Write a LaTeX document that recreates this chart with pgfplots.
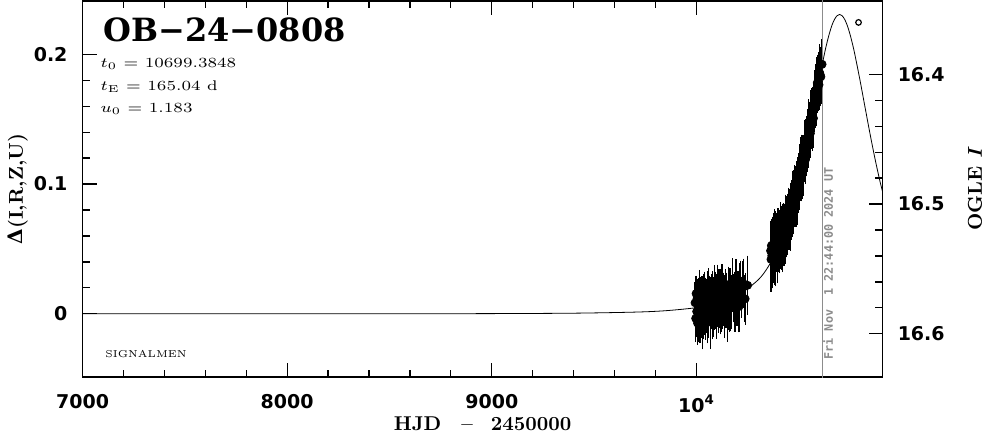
\documentclass[border=0pt]{standalone}
\usepackage{pgfplots}
\pgfplotsset{compat=1.18}
\usepackage{pgfplotstable}
\usepackage{graphicx}
\usepackage{fontspec}
\newfontfamily\tickfont{DejaVu Sans}
\newfontfamily\titlefont{DejaVu Serif}
\newfontfamily\datefont{DejaVu Sans Mono}
\definecolor{dategray}{rgb}{0.55,0.55,0.55}

\pgfplotstableread{
t d e
9993 0.0085 0.014
9996 -0.0035 0.016
9998 0.0156 0.012
10001 0.0018 0.018
10003 0.0118 0.013
10005 -0.0071 0.015
10008 0.0070 0.017
10010 0.0140 0.012
10012 -0.0010 0.019
10015 0.0180 0.014
10017 -0.0049 0.016
10019 0.0061 0.013
10022 0.0112 0.015
10025 0.0013 0.018
10027 0.0153 0.012
10030 -0.0086 0.017
10032 0.0085 0.014
10035 -0.0014 0.016
10038 0.0177 0.013
10040 0.0058 0.020
10043 -0.0031 0.015
10046 0.0140 0.012
10048 0.0040 0.017
10051 0.0111 0.014
10054 -0.0048 0.016
10057 0.0203 0.013
10060 0.0014 0.018
10062 0.0085 0.015
10065 0.0156 0.012
10068 -0.0063 0.019
10071 0.0128 0.014
10074 0.0059 0.016
10077 0.0180 0.013
10080 -0.0009 0.017
10083 0.0112 0.015
10086 0.0013 0.012
10089 0.0174 0.018
10092 0.0045 0.014
10095 0.0146 0.016
10098 -0.0042 0.013
10101 0.0090 0.017
10104 0.0211 0.015
10107 -0.0007 0.012
10110 0.0135 0.019
10113 0.0046 0.014
10116 0.0168 0.016
10119 -0.0010 0.013
10122 0.0121 0.018
10125 0.0213 0.015
10128 0.0025 0.012
10131 0.0097 0.017
10134 0.0159 0.014
10137 -0.0009 0.016
10141 0.0194 0.013
10144 0.0086 0.018
10148 0.0149 0.015
10152 -0.0028 0.017
10156 0.0225 0.012
10160 0.0068 0.019
10164 0.0191 0.014
10168 0.0044 0.016
10172 0.0147 0.013
10176 0.0230 0.018
10180 0.0103 0.015
10184 0.0186 0.012
10188 0.0049 0.017
10193 0.0263 0.014
10198 0.0087 0.016
10203 0.0182 0.013
10208 0.0056 0.018
10214 0.0242 0.015
10220 0.0128 0.014
10228 0.0236 0.017
10238 0.0116 0.018
10250 0.0220 0.021
}\seasonA

\pgfplotstableread{
t d e
10362 0.0486 0.021
10364 0.0420 0.023
10366 0.0525 0.019
10368 0.0450 0.022
10370 0.0530 0.020
10372 0.0425 0.021
10374 0.0500 0.019
10377 0.0540 0.022
10380 0.0480 0.024
10383 0.0590 0.020
10386 0.0480 0.025
10389 0.0560 0.019
10392 0.0550 0.021
10395 0.0485 0.023
10398 0.0605 0.019
10401 0.0550 0.021
10404 0.0595 0.019
10407 0.0540 0.021
10410 0.0640 0.020
10413 0.0573 0.021
10416 0.0635 0.018
10419 0.0550 0.021
10422 0.0630 0.020
10425 0.0663 0.017
10428 0.0596 0.021
10431 0.0650 0.018
10434 0.0605 0.020
10437 0.0730 0.017
10440 0.0663 0.021
10443 0.0727 0.018
10446 0.0671 0.020
10449 0.0784 0.017
10452 0.0720 0.021
10455 0.0767 0.018
10458 0.0704 0.020
10461 0.0822 0.017
10464 0.0799 0.021
10467 0.0787 0.018
10470 0.0884 0.020
10473 0.0801 0.017
10476 0.0879 0.021
10479 0.0946 0.018
10482 0.0884 0.020
10485 0.0951 0.017
10488 0.0898 0.021
10491 0.0976 0.018
10494 0.0903 0.020
10497 0.1040 0.017
10500 0.1008 0.021
10503 0.0999 0.018
10506 0.1091 0.020
10509 0.1062 0.017
10512 0.1153 0.021
10515 0.1065 0.018
10518 0.1156 0.020
10521 0.1187 0.017
10524 0.1138 0.021
10527 0.1211 0.018
10530 0.1274 0.020
10533 0.1188 0.017
10536 0.1292 0.021
10539 0.1275 0.018
10542 0.1359 0.020
10545 0.1312 0.017
10548 0.1426 0.021
10551 0.1380 0.018
10554 0.1416 0.020
10557 0.1391 0.017
10560 0.1496 0.021
10563 0.1541 0.018
10566 0.1476 0.020
10569 0.1562 0.017
10572 0.1507 0.021
10575 0.1602 0.018
10578 0.1657 0.020
10581 0.1623 0.017
10584 0.1698 0.021
10587 0.1643 0.018
10590 0.1779 0.020
10593 0.1734 0.017
10596 0.1789 0.021
10599 0.1765 0.018
10602 0.1859 0.020
10605 0.1842 0.017
10608 0.1826 0.021
10611 0.1920 0.018
10614 0.1923 0.019
}\seasonB

\begin{document}
\begin{tikzpicture}
\begin{axis}[
  name=ax,
  scale only axis, width=400pt, height=188pt,
  xmin=7000, xmax=10910, ymin=-0.0487, ymax=0.241,
  scaled x ticks=false, scaled y ticks=false,
  xtick={7000,8000,9000,10000},
  xticklabels={7000,8000,9000,10\textsuperscript{4}},
  minor x tick num=4,
  ytick={0,0.1,0.2}, yticklabels={0,0.1,0.2},
  minor y tick num=4,
  ytick pos=left,
  tick align=inside,
  major tick length=7pt, minor tick length=3.6pt,
  axis line style={line width=0.7pt},
  every tick/.style={black, line width=0.6pt},
  tick label style={font=\tickfont\bfseries\fontsize{9.5}{10}\selectfont},
  xticklabel style={yshift=-5.3pt},
  yticklabel style={xshift=-4pt},
  xlabel={HJD\hspace{10pt}\textendash\hspace{9pt}2450000},
  ylabel={{\titlefont\bfseries Δ}(I,R,Z,U)},
  label style={font=\bfseries\fontsize{10}{12}\selectfont},
  xlabel style={at={(axis description cs:0.5,-0.141)}, anchor=base},
  ylabel style={at={(axis description cs:-0.0744,0.5)}, anchor=base},
  clip=true
]
\addplot[black, line width=0.4pt, smooth] coordinates {
(7000,0.00001) (7500,0.000015) (8000,0.00003) (8500,0.00007) (9000,0.00019)
(9400,0.00052) (9700,0.00135) (9850,0.00243) (10000,0.00478) (10100,0.00793)
(10200,0.01393) (10300,0.02595) (10350,0.03613) (10400,0.05082) (10450,0.07179)
(10500,0.10078) (10525,0.1185) (10550,0.13818) (10575,0.1592) (10600,0.18028)
(10625,0.2000) (10636.9,0.2083) (10649.4,0.2159) (10661.9,0.2222) (10674.4,0.2268)
(10686.9,0.22965) (10699.4,0.23063) (10711.9,0.22965) (10724.4,0.2268) (10736.9,0.2222)
(10749.4,0.2159) (10761.9,0.2083) (10774.4,0.19955) (10799.4,0.17979) (10824.4,0.15863)
(10849.4,0.13769) (10874.4,0.11806) (10899.4,0.10036) (10924.4,0.0850)
};
\addplot[black, only marks, mark=none,
  error bars/.cd, y dir=both, y explicit,
  error bar style={line width=0.75pt},
  error mark options={mark size=1.2pt, line width=0.6pt}]
  table[x=t, y=d, y error=e] {\seasonA};
\addplot[black, only marks, mark=none,
  error bars/.cd, y dir=both, y explicit,
  error bar style={line width=0.75pt},
  error mark options={mark size=1.2pt, line width=0.6pt}]
  table[x=t, y=d, y error=e] {\seasonB};
\addplot[dategray, line width=0.5pt] coordinates {(10617.5,-0.06) (10617.5,0.25)};
\addplot[black, only marks, mark=o, mark size=1.4pt, line width=0.6pt] coordinates {(10792,0.2245)};
\node[anchor=north west, rotate=90, inner sep=0pt, xshift=1.5pt, text=dategray,
  font=\datefont\bfseries\fontsize{5.9}{7}\selectfont]
  at (axis cs:10617.5,-0.0378) {Fri Nov~~1 22:44:00 2024 UT};
\node[anchor=base west, inner sep=0pt, font=\titlefont\bfseries\fontsize{16}{18}\selectfont]
  at (axis description cs:0.0256,0.891) {OB−24−0808};
\node[anchor=base west, inner sep=0pt, font=\fontsize{7}{8}\selectfont]
  at (axis description cs:0.022,0.822) {\scalebox{1.2}[1]{$t_0$ = 10699.3848}};
\node[anchor=base west, inner sep=0pt, font=\fontsize{7}{8}\selectfont]
  at (axis description cs:0.022,0.763) {\scalebox{1.2}[1]{$t_{\mathrm{E}}$ = 165.04 d}};
\node[anchor=base west, inner sep=0pt, font=\fontsize{7}{8}\selectfont]
  at (axis description cs:0.022,0.704) {\scalebox{1.2}[1]{$u_0$ = 1.183}};
\node[anchor=base west, inner sep=0pt, font=\fontsize{5}{6}\selectfont]
  at (axis description cs:0.028,0.053) {SIGNALMEN};
\end{axis}
\begin{axis}[
  scale only axis, width=400pt, height=188pt,
  xmin=7000, xmax=10910,
  ymin=16.3436, ymax=16.6333, y dir=reverse,
  hide x axis, xtick=\empty, scaled x ticks=false, scaled y ticks=false,
  axis y line*=right,
  ytick={16.4,16.5,16.6}, yticklabels={16.4,16.5,16.6},
  minor y tick num=4,
  tick align=inside,
  major tick length=7pt, minor tick length=3.6pt,
  axis line style={line width=0.7pt},
  every tick/.style={black, line width=0.6pt},
  tick label style={font=\tickfont\bfseries\fontsize{9.5}{10}\selectfont},
  yticklabel style={xshift=4pt},
  ylabel={OGLE \textit{I}},
  label style={font=\bfseries\fontsize{10}{12}\selectfont},
  ylabel style={at={(axis description cs:1.124,0.5)}, anchor=base},
]
\addplot[draw=none] coordinates {(7000,16.5) (10900,16.5)};
\end{axis}
\pgfresetboundingbox
\path ([shift={(-41.25pt,-28.5pt)}]ax.south west) rectangle ([shift={(51.65pt,0.5pt)}]ax.north east);
\end{tikzpicture}
\end{document}
